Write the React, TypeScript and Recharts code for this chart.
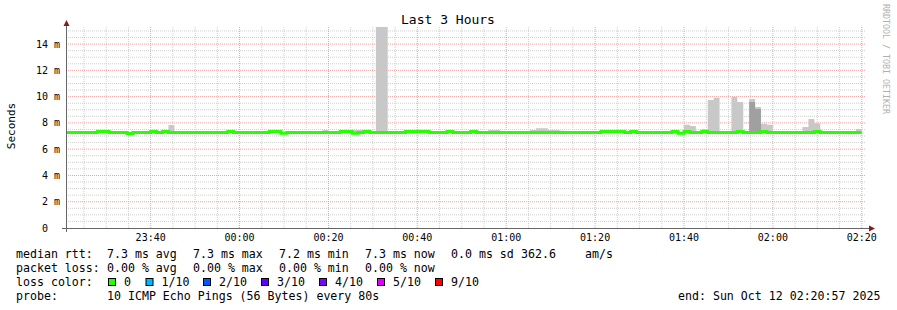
import React from 'react';
import { ComposedChart, Area, Line, XAxis, YAxis, CartesianGrid } from 'recharts';

// ---- time axis (seconds relative to local midnight) ----
const START_T = -2343; // 23:20:57
const END_T = 8457; // 02:20:57
const BIN_SECONDS = 80;
const FIRST_BIN_T = -2400;
const X_TICKS = [-1200, 0, 1200, 2400, 3600, 4800, 6000, 7200, 8400];
const X_MINOR = Array.from({ length: 36 }, (_, i) => -2100 + i * 300).filter((v) => v % 1200 !== 0);
const Y_TICKS = [2, 4, 6, 8, 10, 12, 14];
const Y_MINOR = Array.from({ length: 30 }, (_, i) => 0.5 + i * 0.5).filter((v) => v % 2 !== 0);
const Y_MAX = 15.3;

// ---- median rtt per 80s bin (ms) ----
const MEDIAN = [
  7.27, 7.27, 7.27, 7.27, 7.27, 7.27, 7.34, 7.34, 7.27, 7.27,
  7.27, 7.2, 7.27, 7.27, 7.27, 7.34, 7.27, 7.34, 7.27, 7.27,
  7.27, 7.27, 7.27, 7.27, 7.27, 7.27, 7.27, 7.27, 7.34, 7.27,
  7.27, 7.27, 7.27, 7.27, 7.27, 7.34, 7.34, 7.22, 7.27, 7.27,
  7.27, 7.27, 7.27, 7.27, 7.27, 7.27, 7.27, 7.34, 7.34, 7.22,
  7.27, 7.34, 7.27, 7.27, 7.27, 7.27, 7.27, 7.27, 7.34, 7.34,
  7.34, 7.34, 7.27, 7.27, 7.27, 7.34, 7.27, 7.27, 7.27, 7.34,
  7.27, 7.27, 7.27, 7.27, 7.27, 7.27, 7.27, 7.27, 7.27, 7.27,
  7.27, 7.27, 7.27, 7.27, 7.27, 7.27, 7.27, 7.27, 7.27, 7.27,
  7.27, 7.34, 7.34, 7.34, 7.34, 7.27, 7.34, 7.27, 7.27, 7.27,
  7.27, 7.27, 7.27, 7.34, 7.22, 7.34, 7.27, 7.27, 7.34, 7.27,
  7.27, 7.27, 7.27, 7.27, 7.34, 7.27, 7.27, 7.27, 7.34, 7.27,
  7.27, 7.27, 7.27, 7.27, 7.27, 7.27, 7.27, 7.34, 7.27, 7.27,
  7.27, 7.27, 7.27, 7.27, 7.27,
];

// ---- smoke (outer pings, light grey) top per bin (ms), null = none ----
const SMOKE_LOW = 7.2;
const SMOKE_TOP: (number | null)[] = [
  null, null, null, null, null, null, null, null, null, null,
  null, null, null, null, null, null, null, null, 7.84, null,
  null, null, null, null, null, null, null, null, null, null,
  null, null, null, null, null, null, null, null, null, null,
  null, null, null, null, 7.46, null, null, null, null, 7.46,
  7.46, 7.46, null, 15.3, 15.3, null, null, null, null, 7.46,
  null, null, null, null, null, null, null, null, null, null,
  null, null, 7.46, 7.46, null, null, null, null, null, 7.46,
  7.6, 7.6, 7.46, 7.46, 7.4, null, null, null, null, null,
  null, null, null, null, null, null, null, null, null, null,
  null, null, null, null, null, 7.86, 7.76, null, 7.53, 9.74,
  9.92, null, null, 9.99, 9.59, null, 9.82, 9.21, 7.94, 7.86,
  null, null, null, null, null, 7.69, 8.3, 7.97, null, null,
  null, null, null, null, 7.53,
];

// ---- inner smoke (dark grey) top per bin (ms) ----
const SMOKE_INNER: (number | null)[] = MEDIAN.map(() => null);
SMOKE_INNER[116] = 9.59;
SMOKE_INNER[117] = 9.06;

const LOSS_LABELS = ['0', '1/10', '2/10', '3/10', '4/10', '5/10', '9/10'];
const LOSS_COLORS = ['#26ff00', '#00b8ff', '#0059ff', '#5e00ff', '#7e00ff', '#dd00ff', '#ff0000'];
const LOSS_X = [108.5, 146, 203.5, 261.5, 319.5, 377.5, 435.5];

const STAT_LINE1 = ['7.3 ms avg', '7.3 ms max', '7.2 ms min', '7.3 ms now', '0.0 ms sd'];
const STAT_LINE2 = ['0.00 % avg', '0.00 % max', '0.00 % min', '0.00 % now'];
const STAT_X = [107, 193, 279, 365, 451];

const rows = MEDIAN.map((m, i) => {
  const top = SMOKE_TOP[i];
  const inner = SMOKE_INNER[i];
  return {
    t: FIRST_BIN_T + i * BIN_SECONDS,
    median: m,
    smoke: [SMOKE_LOW, top == null ? SMOKE_LOW : top],
    inner: [SMOKE_LOW, inner == null ? SMOKE_LOW : inner],
  };
});
const lastRow = rows[rows.length - 1];
const data = [...rows, { ...lastRow, t: lastRow.t + BIN_SECONDS }];

const fmtTime = (t: number) => {
  const m = ((Math.round(t / 60) % 1440) + 1440) % 1440;
  const hh = String(Math.floor(m / 60)).padStart(2, '0');
  const mm = String(m % 60).padStart(2, '0');
  return `${hh}:${mm}`;
};
const fmtY = (v: number) => `${v} m`;

const MONO = 'DejaVu Sans Mono, monospace';
const W = 897;
const H = 310;

export default function App() {
  return (
    <div style={{ position: 'absolute', left: 0, top: 0, width: W, height: H, background: '#fff' }}>
      <ComposedChart
        width={W}
        height={H}
        data={data}
        margin={{ top: 27, right: 31, bottom: 62, left: 0 }}
      >
        <CartesianGrid
          horizontalValues={Y_MINOR}
          verticalValues={X_MINOR}
          stroke="#cfcfcf"
          strokeDasharray="1 1"
        />
        <CartesianGrid
          horizontalValues={Y_TICKS}
          verticalValues={X_TICKS}
          stroke="#f2a0a0"
          strokeDasharray="1 1"
        />
        <XAxis
          dataKey="t"
          type="number"
          domain={[START_T, END_T]}
          allowDataOverflow
          ticks={X_TICKS}
          interval={0}
          tickFormatter={fmtTime}
          axisLine={false}
          tickLine={false}
          tickSize={4}
          tickMargin={2}
          height={20}
          tick={{ fontSize: 10, fill: '#000', fontFamily: MONO }}
        />
        <YAxis
          type="number"
          domain={[0, Y_MAX]}
          allowDataOverflow
          ticks={Y_TICKS}
          interval={0}
          tickFormatter={fmtY}
          axisLine={false}
          tickLine={false}
          tickSize={4}
          tickMargin={2}
          width={66}
          tick={{ fontSize: 10, fill: '#000', fontFamily: MONO }}
        />
        <Area
          dataKey="smoke"
          type="stepAfter"
          stroke="none"
          fill="#c8c8c8"
          fillOpacity={1}
          isAnimationActive={false}
          dot={false}
          activeDot={false}
        />
        <Area
          dataKey="inner"
          type="stepAfter"
          stroke="none"
          fill="#a0a0a0"
          fillOpacity={1}
          isAnimationActive={false}
          dot={false}
          activeDot={false}
        />
        <Line
          dataKey="median"
          type="stepAfter"
          stroke="#26ff00"
          strokeWidth={3}
          dot={false}
          activeDot={false}
          isAnimationActive={false}
        />
      </ComposedChart>
      <svg
        width={W}
        height={H}
        style={{ position: 'absolute', left: 0, top: 0, pointerEvents: 'none' }}
        fontFamily={MONO}
      >
        <text x={448} y={24} textAnchor="middle" fontSize={13} fill="#000">Last 3 Hours</text>
        <text x={15} y={126} transform="rotate(-90 15 126)" textAnchor="middle" fontSize={11} fill="#000">Seconds</text>
        <text x={883} y={4} transform="rotate(90 883 4)" fontSize={8.3} fill="#b0b0b0">RRDTOOL / TOBI OETIKER</text>
        <text x={48} y={228} dy="0.355em" textAnchor="end" fontSize={10} fill="#000">0</text>

        <line x1={66.5} y1={232} x2={66.5} y2={25} stroke="#666" strokeWidth={1} />
        <polygon points="63.5,26 69.5,26 66.5,20" fill="#8b1a1a" />
        <line x1={62} y1={228.5} x2={870} y2={228.5} stroke="#666" strokeWidth={1} />
        <polygon points="869,225.5 869,231.5 875,228.5" fill="#8b1a1a" />

        <g fontSize={11.6} fill="#000">
          <text x={16} y={258}>median rtt:</text>
          {STAT_LINE1.map((s, i) => (
            <text key={s + i} x={STAT_X[i]} y={258}>{s}</text>
          ))}
          <text x={521} y={258}>362.6</text>
          <text x={585} y={258}>am/s</text>

          <text x={16} y={272}>packet loss:</text>
          {STAT_LINE2.map((s, i) => (
            <text key={s + i} x={STAT_X[i]} y={272}>{s}</text>
          ))}

          <text x={16} y={286}>loss color:</text>
          {LOSS_LABELS.map((l, i) => (
            <g key={l}>
              <rect x={LOSS_X[i]} y={278.5} width={7} height={7} fill={LOSS_COLORS[i]} stroke="#000" strokeWidth={1} />
              <text x={LOSS_X[i] + 15.5} y={286}>{l}</text>
            </g>
          ))}

          <text x={16} y={300}>probe:</text>
          <text x={107} y={300}>10 ICMP Echo Pings (56 Bytes) every 80s</text>
          <text x={678} y={300}>end: Sun Oct 12 02:20:57 2025</text>
        </g>
      </svg>
    </div>
  );
}
